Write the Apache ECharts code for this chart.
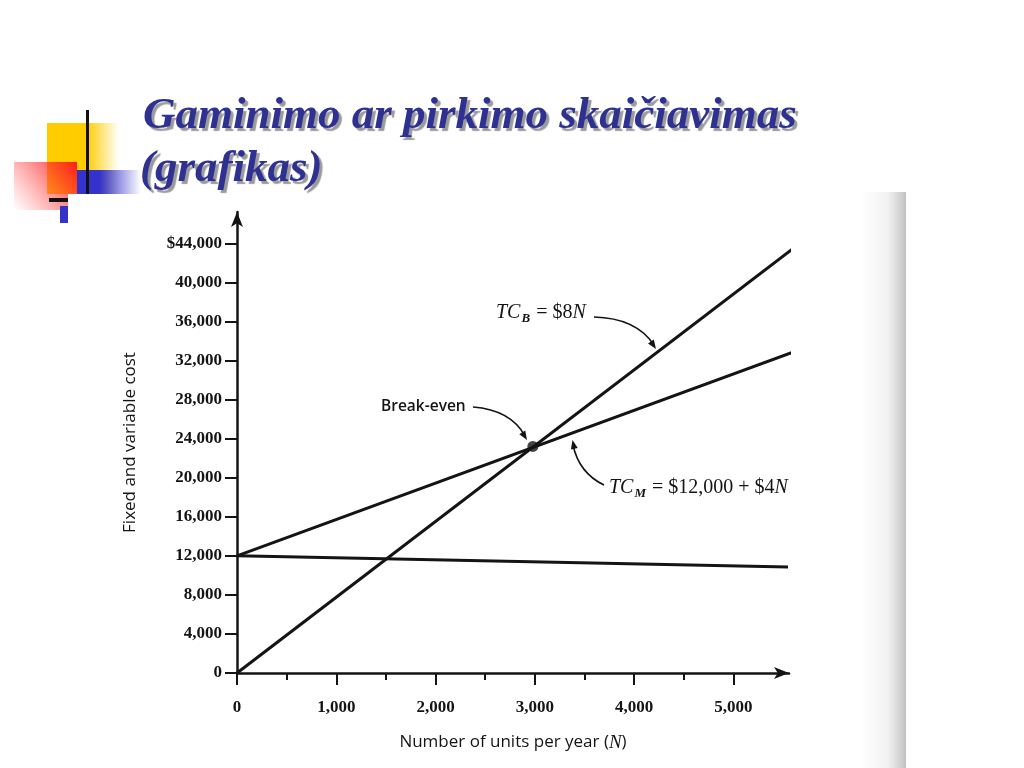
<!DOCTYPE html>
<html><head><meta charset="utf-8">
<script src="https://cdn.jsdelivr.net/npm/echarts@6/dist/echarts.min.js"></script>
<style>html,body{margin:0;padding:0;background:#fff}#c{width:1024px;height:768px}</style>
</head><body><div id="c"></div>
<script>
// ---- data ----
const yTicks = [0, 4000, 8000, 12000, 16000, 20000, 24000, 28000, 32000, 36000, 40000, 44000];
const yTickLabels = ['0', '4,000', '8,000', '12,000', '16,000', '20,000', '24,000', '28,000', '32,000', '36,000', '40,000', '$44,000'];
const xTicks = [0, 1000, 2000, 3000, 4000, 5000];
const xTickLabels = ['0', '1,000', '2,000', '3,000', '4,000', '5,000'];
const xMinorTicks = [500, 1500, 2500, 3500, 4500];
const tcbUnits = [0, 5670];
const tcbCost = [0, 44000];
const tcmUnits = [0, 5640];
const tcmCost = [12000, 33000];
const fixedUnits = [0, 5550];
const fixedCost = [12000, 10850];
const breakEvenUnits = [2980];
const breakEvenCost = [23200];

const zip = (a, b) => a.map((v, i) => [v, b[i]]);
const INK = '#141414';
const SERIF = '"Liberation Serif", "Times New Roman", serif';
const SANS = '"Open Sans", "DejaVu Sans", sans-serif';

const chart = echarts.init(document.getElementById('c'), null, {renderer: 'canvas'});
const LG = echarts.graphic.LinearGradient;

function arrowHead(tip, from, len, half) {
  const dx = tip[0] - from[0], dy = tip[1] - from[1];
  const L = Math.hypot(dx, dy);
  const d = [dx / L, dy / L], p = [-d[1], d[0]];
  const b = [tip[0] - len * d[0], tip[1] - len * d[1]];
  return {type: 'polygon', z: 20, shape: {points: [tip, [b[0] + half * p[0], b[1] + half * p[1]], [b[0] - half * p[0], b[1] - half * p[1]]]}, style: {fill: INK}};
}
function curve(x1, y1, cx, cy, x2, y2) {
  return {type: 'bezierCurve', z: 20, shape: {x1, y1, x2, y2, cpx1: cx, cpy1: cy}, style: {stroke: INK, lineWidth: 1.6, fill: null}};
}
const labelRich = {
  i: {fontFamily: SERIF, fontStyle: 'italic', fontSize: 20, fill: INK, color: INK},
  r: {fontFamily: SERIF, fontSize: 20, fill: INK, color: INK},
  s: {fontFamily: SERIF, fontStyle: 'italic', fontWeight: 'bold', fontSize: 13, fill: INK, color: INK, padding: [11, 1, 0, 1]}
};
function rich(x, y, text) {
  return {type: 'text', z: 20, x, y, style: {text, rich: labelRich, fill: INK, verticalAlign: 'middle', align: 'left', font: '20px ' + SERIF}};
}

const titleStyle = {fill: '#2E3192', textShadowColor: 'rgba(120,120,120,0.75)', textShadowOffsetX: 3, textShadowOffsetY: 3, textShadowBlur: 1};
const titleFont = 'italic bold 45px ' + SERIF;

const graphics = [
  // decorative squares
  {type: 'rect', z: 1, shape: {x: 47, y: 123, width: 72, height: 71}, style: {fill: new LG(0, 0, 1, 0, [{offset: 0, color: '#FFCC00'}, {offset: 0.55, color: '#FFCC00'}, {offset: 1, color: 'rgba(255,204,0,0)'}])}},
  {type: 'rect', z: 2, shape: {x: 77, y: 170, width: 64, height: 24}, style: {fill: new LG(0, 0, 1, 0, [{offset: 0, color: '#3333CC'}, {offset: 0.35, color: '#3333CC'}, {offset: 1, color: 'rgba(51,51,204,0)'}])}},
  {type: 'rect', z: 3, shape: {x: 14, y: 162, width: 63, height: 48}, style: {fill: new LG(1, 0, 0, 1, [{offset: 0, color: '#FF1A1A'}, {offset: 1, color: 'rgba(255,80,80,0)'}])}},
  {type: 'rect', z: 4, shape: {x: 86, y: 110, width: 3, height: 85}, style: {fill: '#111'}},
  {type: 'rect', z: 4, shape: {x: 49, y: 198, width: 20, height: 4}, style: {fill: '#111'}},
  {type: 'rect', z: 4, shape: {x: 60, y: 206, width: 8, height: 17}, style: {fill: '#3333CC'}},
  {type: 'rect', z: 5, shape: {x: 68, y: 194, width: 838, height: 574}, style: {fill: '#fff'}},
  // scan edge on the right
  {type: 'rect', z: 6, shape: {x: 860, y: 192, width: 46, height: 576}, style: {fill: new LG(0, 0, 1, 0, [{offset: 0, color: 'rgba(90,90,90,0)'}, {offset: 0.6, color: 'rgba(90,90,90,0.08)'}, {offset: 1, color: 'rgba(60,60,60,0.32)'}])}},
  // title
  {type: 'text', z: 10, x: 143, y: 116, style: Object.assign({text: 'Gaminimo ar pirkimo skaičiavimas', font: titleFont, verticalAlign: 'middle'}, titleStyle)},
  {type: 'text', z: 10, x: 140, y: 169, style: Object.assign({text: '(grafikas)', font: titleFont, verticalAlign: 'middle'}, titleStyle)},
  // TC_B label
  rich(496, 313, '{i|TC}{s|B}{r| = $8}{i|N}'),
  curve(594, 317, 636, 318, 654, 345),
  arrowHead([656, 349], [645, 333], 9, 3.5),
  // Break-even
  {type: 'text', z: 20, x: 381, y: 407, style: {text: 'Break-even', font: '600 15.5px ' + SANS, fill: INK, verticalAlign: 'middle'}},
  curve(473, 407, 511, 410, 525, 436),
  arrowHead([527, 440], [519, 427], 9, 3.5),
  // TC_M label
  rich(609, 488, '{i|TC}{s|M}{r| = $12,000 + $4}{i|N}'),
  curve(604, 485, 579, 473, 573, 445),
  arrowHead([572.5, 440], [575, 452], 9, 3.5)
];

const lineStyle = {color: INK, width: 3};
const option = {
  backgroundColor: '#fff',
  animation: false,
  grid: {left: 237, top: 212, width: 552, height: 461, containLabel: false},
  xAxis: [{
    type: 'value', min: 0, max: 5560, position: 'bottom', z: 8,
    axisLine: {show: true, symbol: ['none', 'arrow'], symbolSize: [9, 15], lineStyle: {color: INK, width: 2.5}},
    axisTick: {show: true, customValues: xTicks, length: 12, lineStyle: {color: INK, width: 2}},
    axisLabel: {show: true, customValues: xTicks, margin: 26, formatter: v => xTickLabels[xTicks.indexOf(v)] ?? '', color: INK, fontFamily: SERIF, fontSize: 17, fontWeight: 'bold'},
    splitLine: {show: false},
    name: 'Number of units per year ({i|N})', nameLocation: 'middle', nameGap: 60,
    nameTextStyle: {color: INK, fontFamily: SANS, fontSize: 17, rich: {i: {fontFamily: SERIF, fontStyle: 'italic', fontSize: 19, color: INK}}}
  }, {
    type: 'value', min: 0, max: 5560, position: 'bottom', z: 8,
    axisLine: {show: false},
    axisTick: {show: true, customValues: xMinorTicks, length: 7, lineStyle: {color: INK, width: 2}},
    axisLabel: {show: false},
    splitLine: {show: false}
  }],
  yAxis: {
    type: 'value', min: 0, max: 47200, z: 8,
    axisLine: {show: true, symbol: ['none', 'arrow'], symbolSize: [9, 15], lineStyle: {color: INK, width: 2.5}},
    axisTick: {show: true, customValues: yTicks, length: 12, lineStyle: {color: INK, width: 2}},
    axisLabel: {show: true, customValues: yTicks, margin: 15, formatter: v => yTickLabels[yTicks.indexOf(v)] ?? '', color: INK, fontFamily: SERIF, fontSize: 17, fontWeight: 'bold'},
    splitLine: {show: false},
    name: 'Fixed and variable cost', nameLocation: 'middle', nameGap: 98, nameRotate: 90,
    nameTextStyle: {color: INK, fontFamily: SANS, fontSize: 17}
  },
  series: [
    {type: 'line', name: 'TC_B', data: zip(tcbUnits, tcbCost), symbol: 'none', clip: false, lineStyle, z: 10},
    {type: 'line', name: 'TC_M', data: zip(tcmUnits, tcmCost), symbol: 'none', clip: false, lineStyle, z: 10},
    {type: 'line', name: 'Fixed', data: zip(fixedUnits, fixedCost), symbol: 'none', clip: false, lineStyle, z: 10},
    {type: 'scatter', name: 'Break-even', data: zip(breakEvenUnits, breakEvenCost), symbol: 'circle', symbolSize: 11, itemStyle: {color: INK}, z: 11}
  ],
  graphic: graphics
};
chart.setOption(option);
</script>
</body></html>
